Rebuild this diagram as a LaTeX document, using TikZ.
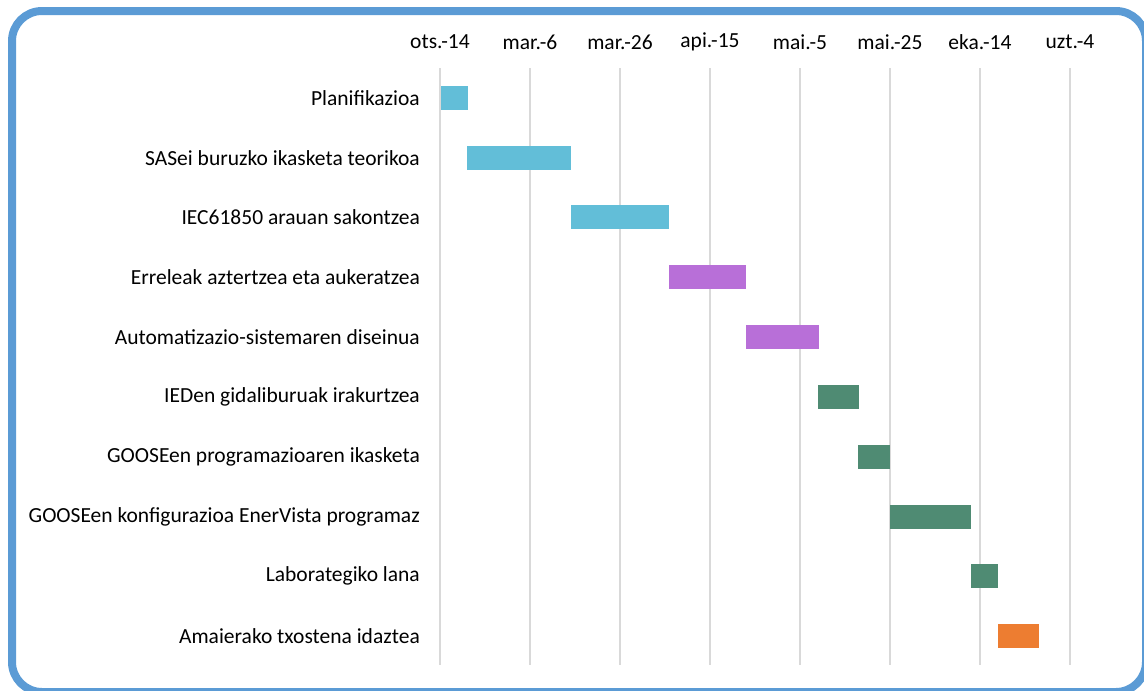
\documentclass[tikz,border=0pt]{standalone}
\usepackage{fontspec}
\setmainfont{Carlito}
\definecolor{frameblue}{HTML}{5B9BD5}
\definecolor{barblue}{HTML}{62BED8}
\definecolor{barpurple}{HTML}{B86FD8}
\definecolor{bargreen}{HTML}{4F8B73}
\definecolor{barorange}{HTML}{ED7D31}
\definecolor{gridgray}{HTML}{D9D9D9}
\begin{document}
\begin{tikzpicture}[x=1pt,y=-1pt,
  lbl/.style={anchor=east,inner sep=0pt,font=\fontsize{21.5}{25}\selectfont},
  hdr/.style={anchor=center,inner sep=0pt,font=\fontsize{21.5}{25}\selectfont},
  gline/.style={draw=gridgray,line width=2pt},
  frame/.style={draw=frameblue,line width=8pt,rounded corners=30pt}]
\useasboundingbox (0,0) rectangle (1144,691);
\draw[frame] (12,11) rectangle (1146,692);
% grid lines and headers
\foreach \x/\t [count=\i] in {440/ots.-14,530/mar.-6,620/mar.-26,710/api.-15,800/mai.-5,890/mai.-25,980/eka.-14,1070/uzt.-4}{
  \draw[gline] (\x,68) -- (\x,665);
  \node[hdr] (h\i) at (\x,42) {\t};
}
% bars
\newcommand{\ganttbar}[5]{% name, x1, x2, y, color
  \fill[#5] (#2,#4-12) rectangle (#3,#4+12);
  \coordinate (#1) at ({(#2+#3)/2},#4);
}
\ganttbar{b1}{441}{468}{98}{barblue}
\ganttbar{b2}{467}{571}{158}{barblue}
\ganttbar{b3}{571}{669}{217}{barblue}
\ganttbar{b4}{669}{746}{277}{barpurple}
\ganttbar{b5}{746}{819}{337}{barpurple}
\ganttbar{b6}{818}{859}{397}{bargreen}
\ganttbar{b7}{858}{890}{457}{bargreen}
\ganttbar{b8}{890}{971}{517}{bargreen}
\ganttbar{b9}{971}{998}{576}{bargreen}
\ganttbar{b10}{998}{1039}{636}{barorange}
% labels
\node[lbl] (l1) at (420,98) {Planifikazioa};
\node[lbl] (l2) at (420,158) {SASei buruzko ikasketa teorikoa};
\node[lbl] (l3) at (420,217) {IEC61850 arauan sakontzea};
\node[lbl] (l4) at (420,277) {Erreleak aztertzea eta aukeratzea};
\node[lbl] (l5) at (420,337) {Automatizazio-sistemaren diseinua};
\node[lbl] (l6) at (420,397) {IEDen gidaliburuak irakurtzea};
\node[lbl] (l7) at (420,457) {GOOSEen programazioaren ikasketa};
\node[lbl] (l8) at (420,517) {GOOSEen konfigurazioa EnerVista programaz};
\node[lbl] (l9) at (420,576) {Laborategiko lana};
\node[lbl] (l10) at (420,636) {Amaierako txostena idaztea};
\end{tikzpicture}
\end{document}
